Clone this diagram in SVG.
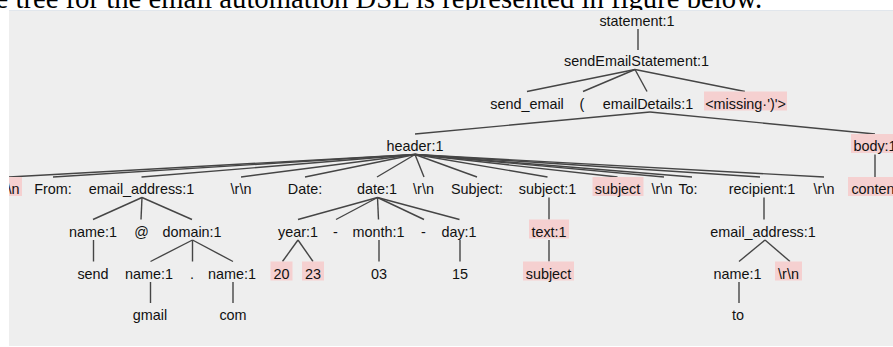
<svg xmlns="http://www.w3.org/2000/svg" width="893" height="347" viewBox="0 0 893 347">
<style>
.cap{font-family:"Liberation Serif","Times New Roman",serif;font-size:28.7px;fill:#000}
.t{font-family:"Liberation Sans",Arial,sans-serif;font-size:14.4px;fill:#111;text-anchor:middle}
.hl{fill:#f5d0d0}
.e{stroke:#454545;stroke-width:1.4;fill:none}
</style>
<defs>
<clipPath id="panelClip"><rect x="9" y="10" width="884" height="336"/></clipPath>
</defs>
<rect x="0" y="0" width="893" height="347" fill="#ffffff"/>
<text class="cap" x="-4.5" y="8">e tree for the email automation DSL is represented in figure below.</text>
<rect id="panel" x="9" y="10" width="884" height="336" fill="#eeeeee"/>
<line x1="9" y1="10.5" x2="893" y2="10.5" stroke="#e1e6ec" stroke-width="1"/>
<g clip-path="url(#panelClip)">
<g id="connectors" class="e">
<line x1="638" y1="29" x2="638" y2="50"/>
<line x1="635" y1="69.5" x2="527" y2="91.5"/>
<line x1="635" y1="69.5" x2="583" y2="91.5"/>
<line x1="635" y1="69.5" x2="647" y2="91.5"/>
<line x1="635" y1="69.5" x2="745" y2="91.5"/>
<line x1="650" y1="112" x2="415" y2="134"/>
<line x1="650" y1="112" x2="875" y2="134"/>
<line x1="415" y1="154.5" x2="9" y2="177"/>
<line x1="415" y1="154.5" x2="53" y2="177"/>
<line x1="415" y1="154.5" x2="141.5" y2="177"/>
<line x1="415" y1="154.5" x2="241" y2="177"/>
<line x1="415" y1="154.5" x2="305" y2="177"/>
<line x1="415" y1="154.5" x2="377" y2="177"/>
<line x1="415" y1="154.5" x2="424" y2="177"/>
<line x1="415" y1="154.5" x2="477" y2="177"/>
<line x1="415" y1="154.5" x2="547.5" y2="177"/>
<line x1="415" y1="154.5" x2="617.5" y2="177"/>
<line x1="415" y1="154.5" x2="664" y2="177"/>
<line x1="415" y1="154.5" x2="692" y2="177"/>
<line x1="415" y1="154.5" x2="760" y2="177"/>
<line x1="415" y1="154.5" x2="824" y2="177"/>
<line x1="875" y1="154.5" x2="875" y2="177"/>
<line x1="142" y1="197.5" x2="93" y2="219.5"/>
<line x1="142" y1="197.5" x2="141" y2="219.5"/>
<line x1="142" y1="197.5" x2="192" y2="219.5"/>
<line x1="377.5" y1="197.5" x2="298" y2="219.5"/>
<line x1="377.5" y1="197.5" x2="336" y2="219.5"/>
<line x1="377.5" y1="197.5" x2="378.5" y2="219.5"/>
<line x1="377.5" y1="197.5" x2="424" y2="219.5"/>
<line x1="377.5" y1="197.5" x2="459.5" y2="219.5"/>
<line x1="549" y1="197.5" x2="549" y2="219.5"/>
<line x1="764" y1="197.5" x2="764" y2="219.5"/>
<line x1="93.5" y1="240" x2="93.5" y2="261.5"/>
<line x1="192.5" y1="240" x2="150.5" y2="261.5"/>
<line x1="192.5" y1="240" x2="192.5" y2="261.5"/>
<line x1="192.5" y1="240" x2="233" y2="261.5"/>
<line x1="298" y1="240" x2="282.5" y2="261.5"/>
<line x1="298" y1="240" x2="313" y2="261.5"/>
<line x1="379" y1="240" x2="379" y2="261.5"/>
<line x1="460" y1="240" x2="460" y2="261.5"/>
<line x1="549" y1="240" x2="549" y2="261.5"/>
<line x1="765" y1="240" x2="739" y2="261.5"/>
<line x1="765" y1="240" x2="790" y2="261.5"/>
<line x1="150.5" y1="282" x2="150.5" y2="303"/>
<line x1="233" y1="282" x2="233" y2="303"/>
<line x1="739" y1="282" x2="739" y2="303"/>
</g>
<g id="n-statement"><text class="t" x="637" y="25.5">statement:1</text></g>
<g id="n-sendEmailStatement"><text class="t" x="636.5" y="66">sendEmailStatement:1</text></g>
<g id="n-send_email"><text class="t" x="527" y="108.5">send_email</text></g>
<g id="n-lparen"><text class="t" x="582" y="108.5">(</text></g>
<g id="n-emailDetails"><text class="t" x="648" y="108.5">emailDetails:1</text></g>
<g id="n-missing"><rect class="hl" x="704" y="91.5" width="83" height="19"/><text class="t" x="745.5" y="108.5">&lt;missing·')'&gt;</text></g>
<g id="n-header"><text class="t" x="415" y="151">header:1</text></g>
<g id="n-body"><rect class="hl" x="851" y="134" width="49" height="19"/><text class="t" x="875" y="151">body:1</text></g>
<g id="n-crlf1"><rect class="hl" x="-5" y="177" width="27" height="19"/><text class="t" x="9" y="194">\r\n</text></g>
<g id="n-from"><text class="t" x="53" y="194">From:</text></g>
<g id="n-email_address1"><text class="t" x="141.5" y="194">email_address:1</text></g>
<g id="n-crlf2"><text class="t" x="241" y="194">\r\n</text></g>
<g id="n-datekw"><text class="t" x="305" y="194">Date:</text></g>
<g id="n-date"><text class="t" x="377" y="194">date:1</text></g>
<g id="n-crlf3"><text class="t" x="423.5" y="194">\r\n</text></g>
<g id="n-subjectkw"><text class="t" x="477" y="194">Subject:</text></g>
<g id="n-subject"><text class="t" x="547.5" y="194">subject:1</text></g>
<g id="n-subjecterr"><rect class="hl" x="592.5" y="177" width="51" height="19"/><text class="t" x="617.5" y="194">subject</text></g>
<g id="n-crlf4"><text class="t" x="662" y="194">\r\n</text></g>
<g id="n-to"><text class="t" x="688" y="194">To:</text></g>
<g id="n-recipient"><text class="t" x="762" y="194">recipient:1</text></g>
<g id="n-crlf5"><text class="t" x="824" y="194">\r\n</text></g>
<g id="n-content"><rect class="hl" x="848" y="177" width="54" height="19"/><text class="t" x="875" y="194">content</text></g>
<g id="n-name1"><text class="t" x="93" y="236.5">name:1</text></g>
<g id="n-at"><text class="t" x="141.5" y="236.5">@</text></g>
<g id="n-domain"><text class="t" x="192" y="236.5">domain:1</text></g>
<g id="n-year"><text class="t" x="298" y="236.5">year:1</text></g>
<g id="n-dash1"><text class="t" x="335.5" y="236.5">-</text></g>
<g id="n-month"><text class="t" x="378.5" y="236.5">month:1</text></g>
<g id="n-dash2"><text class="t" x="423.5" y="236.5">-</text></g>
<g id="n-day"><text class="t" x="459" y="236.5">day:1</text></g>
<g id="n-text"><rect class="hl" x="529" y="219.5" width="40" height="19"/><text class="t" x="549" y="236.5">text:1</text></g>
<g id="n-email_address2"><text class="t" x="763" y="236.5">email_address:1</text></g>
<g id="n-send"><text class="t" x="93" y="278.5">send</text></g>
<g id="n-name2"><text class="t" x="149" y="278.5">name:1</text></g>
<g id="n-dot"><text class="t" x="192" y="278.5">.</text></g>
<g id="n-name3"><text class="t" x="232" y="278.5">name:1</text></g>
<g id="n-y20"><rect class="hl" x="270.5" y="261.5" width="22" height="19"/><text class="t" x="281.5" y="278.5">20</text></g>
<g id="n-y23"><rect class="hl" x="302" y="261.5" width="22" height="19"/><text class="t" x="313" y="278.5">23</text></g>
<g id="n-03"><text class="t" x="379" y="278.5">03</text></g>
<g id="n-15"><text class="t" x="460" y="278.5">15</text></g>
<g id="n-subjecttxt"><rect class="hl" x="523" y="261.5" width="51" height="19"/><text class="t" x="548.5" y="278.5">subject</text></g>
<g id="n-name4"><text class="t" x="737.5" y="278.5">name:1</text></g>
<g id="n-crlf6"><rect class="hl" x="775" y="261.5" width="27" height="19"/><text class="t" x="788.5" y="278.5">\r\n</text></g>
<g id="n-gmail"><text class="t" x="150" y="320">gmail</text></g>
<g id="n-com"><text class="t" x="233" y="320">com</text></g>
<g id="n-to2"><text class="t" x="738" y="320">to</text></g>
</g>
</svg>
